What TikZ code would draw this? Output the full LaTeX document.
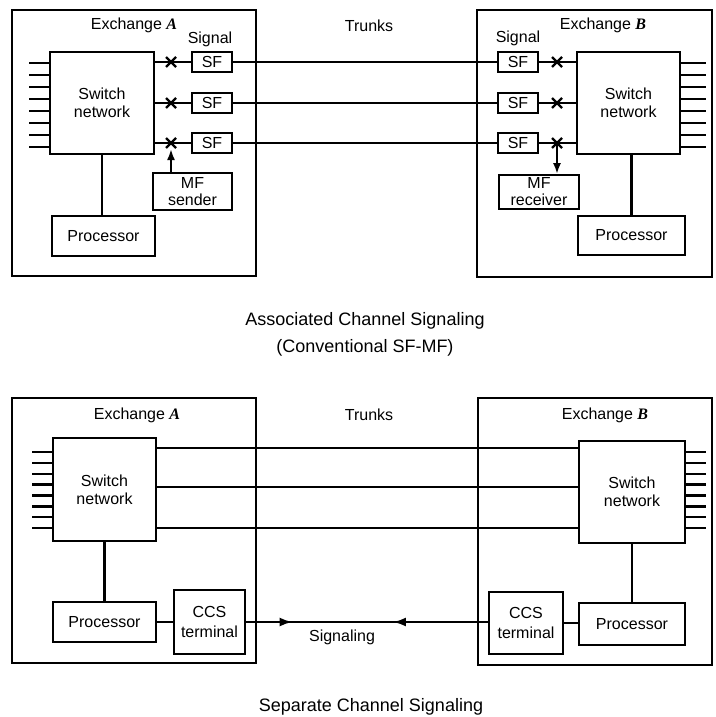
\documentclass[tikz,border=0pt]{standalone}
\usepackage{fontspec}
\setmainfont{Liberation Sans}
\newfontfamily\serifbi{Liberation Serif}
\usetikzlibrary{arrows.meta,decorations.markings,calc}
\newcommand\exlet[1]{{\serifbi\bfseries\itshape #1}}
\begin{document}
\begin{tikzpicture}[x=1pt,y=-1pt,
  exch/.style={draw, line width=1.4pt, inner sep=0pt},
  blk/.style={draw, line width=1.7pt, inner sep=0pt, align=center, font=\fontsize{16}{18}\selectfont},
  wire/.style={line width=2.4pt},
  lab/.style={inner sep=0pt, font=\fontsize{16}{18}\selectfont},
  captxt/.style={inner sep=0pt, font=\fontsize{18}{20}\selectfont},
  arrowtip/.style={-{Latex[length=11pt,width=8pt]}}
]
\useasboundingbox (0,0) rectangle (715,717);

% ================= TOP: associated channel signaling =================
\node[exch, minimum width=244, minimum height=266] (exA) at (134,143) {};
\node[exch, minimum width=235, minimum height=267] (exB) at (594.5,143.5) {};

\node[blk, minimum width=104, minimum height=102] (swA) at (102,103) {Switch\\network};
\node[blk, minimum width=103, minimum height=102] (swB) at (628.5,103) {Switch\\network};

\node[blk, minimum width=40, minimum height=20] (sfA1) at (212,62) {SF};
\node[blk, minimum width=40, minimum height=20] (sfA2) at (212,103) {SF};
\node[blk, minimum width=40, minimum height=20] (sfA3) at (212,143) {SF};
\node[blk, minimum width=40, minimum height=20] (sfB1) at (518,62) {SF};
\node[blk, minimum width=40, minimum height=20] (sfB2) at (518,103) {SF};
\node[blk, minimum width=40, minimum height=20] (sfB3) at (518,143) {SF};

\coordinate (xA1) at (171,62);
\coordinate (xA2) at (171,103);
\coordinate (xA3) at (171,143);
\coordinate (xB1) at (557,62);
\coordinate (xB2) at (557,103);
\coordinate (xB3) at (557,143);

\node[blk, minimum width=79, minimum height=37, font=\fontsize{16}{17}\selectfont] (mfs) at (192.5,191.5) {MF\\sender};
\node[blk, minimum width=80, minimum height=34, font=\fontsize{16}{17}\selectfont] (mfr) at (539,192) {MF\\receiver};
\node[blk, minimum width=103, minimum height=40] (procA) at (103.5,236) {Processor};
\node[blk, minimum width=107, minimum height=39] (procB) at (631.5,235.5) {Processor};

\node[lab] (exAl) at (134,25) {Exchange \exlet{A}};
\node[lab] (exBl) at (603,25) {Exchange \exlet{B}};
\node[lab] (sigAl) at (210,39) {Signal};
\node[lab] (sigBl) at (518,38) {Signal};
\node[lab] (trk1) at (369,26) {Trunks};

\foreach \i in {1,2,3}{
  \draw[wire] (swA.east |- sfA\i) -- (sfA\i.west);
  \draw[wire] (sfA\i.east) -- (sfB\i.west);
  \draw[wire] (sfB\i.east) -- (swB.west |- sfB\i);
  \draw[wire] ($(xA\i)+(-5,-5)$) -- ($(xA\i)+(5,5)$);
  \draw[wire] ($(xA\i)+(-5,5)$) -- ($(xA\i)+(5,-5)$);
  \draw[wire] ($(xB\i)+(-5,-5)$) -- ($(xB\i)+(5,5)$);
  \draw[wire] ($(xB\i)+(-5,5)$) -- ($(xB\i)+(5,-5)$);
}
\foreach \k in {0,...,7}{
  \coordinate (sa\k) at (0,{63+12*\k});
  \draw[wire] (swA.west |- sa\k) -- ++(-20,0);
  \draw[wire] (swB.east |- sa\k) -- ++(25,0);
}
\draw[wire, arrowtip] (mfs.north -| xA3) -- ($(xA3)+(0,6)$);
\draw[wire, arrowtip] (xB3) -- (mfr.north -| xB3);
\draw[wire] (swA.south) -- (swA.south |- procA.north);
\draw[wire] (procB.north |- swB.south) -- (procB.north);

\node[captxt] (cap1) at (365,321) {Associated Channel Signaling};
\node[captxt] (cap2) at (365,348) {(Conventional SF-MF)};

% ================= BOTTOM: separate channel signaling =================
\node[exch, minimum width=244, minimum height=265] (exA2) at (134,530.5) {};
\node[exch, minimum width=234, minimum height=267] (exB2) at (595,531.5) {};

\node[blk, minimum width=103, minimum height=103] (swA2) at (104.5,489.5) {Switch\\network};
\node[blk, minimum width=106, minimum height=102] (swB2) at (632,492) {Switch\\network};
\node[blk, minimum width=103, minimum height=40] (procA2) at (104.5,622) {Processor};
\node[blk, minimum width=71, minimum height=64, font=\fontsize{16}{20}\selectfont] (ccsA) at (209.5,622) {CCS\\terminal};
\node[blk, minimum width=74, minimum height=62, font=\fontsize{16}{20}\selectfont] (ccsB) at (526,623) {CCS\\terminal};
\node[blk, minimum width=106, minimum height=42] (procB2) at (632,624) {Processor};

\node[lab] (exAl2) at (137,415) {Exchange \exlet{A}};
\node[lab] (exBl2) at (605,415) {Exchange \exlet{B}};
\node[lab] (trk2) at (369,415) {Trunks};
\node[lab] (sgl) at (342,637) {Signaling};

\coordinate (t1) at (0,448);
\coordinate (t2) at (0,487);
\coordinate (t3) at (0,528);
\foreach \i in {1,2,3}{
  \draw[wire] (swA2.east |- t\i) -- (swB2.west |- t\i);
}
\foreach \k in {0,...,7}{
  \coordinate (sb\k) at (0,{452+10.86*\k});
  \draw[wire] (swA2.west |- sb\k) -- ++(-20,0);
  \draw[wire] (swB2.east |- sb\k) -- ++(20,0);
}
\draw[wire] (swA2.south) -- (swA2.south |- procA2.north);
\draw[wire] (swB2.south) -- (procB2.north);
\draw[wire] (procA2.east) -- (procA2.east -| ccsA.west);
\draw[wire] (ccsB.east) -- (ccsB.east -| procB2.west);
\draw[wire, postaction={decorate}, decoration={markings,
   mark=at position 0.193 with {\arrow{Latex[length=13pt,width=9pt]}},
   mark=at position 0.607 with {\arrowreversed{Latex[length=13pt,width=9pt]}}}]
  (ccsA.east) -- (ccsA.east -| ccsB.west);

\node[captxt] (cap3) at (371,707) {Separate Channel Signaling};
\end{tikzpicture}
\end{document}
